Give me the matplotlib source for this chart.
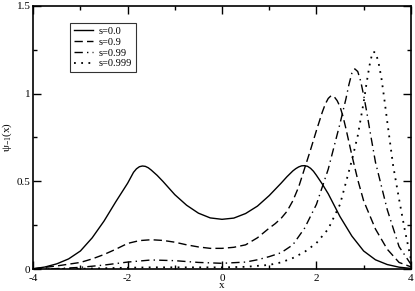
import matplotlib
matplotlib.use('Agg')
import matplotlib.pyplot as plt
from matplotlib.ticker import MultipleLocator

plt.rcParams['font.family'] = ['Liberation Serif', 'DejaVu Serif']
plt.rcParams['mathtext.fontset'] = 'custom'
plt.rcParams['mathtext.rm'] = 'Liberation Serif'
plt.rcParams['mathtext.it'] = 'Liberation Serif'

# values
x_s0 = [-4, -3.75, -3.5, -3.25, -3, -2.75, -2.5, -2.25, -2, -1.875, -1.8125, -1.75, -1.6875,
        -1.625, -1.5625, -1.5, -1.375, -1.25, -1, -0.75, -0.5, -0.25, 0, 0.25, 0.5, 0.75, 1,
        1.25, 1.375, 1.5, 1.5625, 1.625, 1.6875, 1.75, 1.8125, 1.875, 1.9375, 2, 2.125, 2.25,
        2.5, 2.75, 3, 3.25, 3.5, 3.75, 4]
y_s0 = [0.004, 0.014, 0.032, 0.06, 0.105, 0.18, 0.275, 0.385, 0.49, 0.552, 0.572, 0.584, 0.588,
        0.586, 0.578, 0.565, 0.535, 0.5, 0.425, 0.365, 0.32, 0.293, 0.285, 0.292, 0.318, 0.36,
        0.42, 0.49, 0.527, 0.56, 0.573, 0.583, 0.589, 0.59, 0.586, 0.575, 0.558, 0.535, 0.485,
        0.43, 0.3, 0.19, 0.105, 0.055, 0.028, 0.013, 0.006]

x_s9 = [-4, -3.5, -3, -2.75, -2.5, -2.25, -2, -1.75, -1.5, -1.25, -1, -0.75, -0.5, -0.25, 0,
        0.25, 0.5, 0.75, 1, 1.125, 1.25, 1.375, 1.5, 1.625, 1.75, 1.875, 2, 2.125, 2.1875, 2.25,
        2.3125, 2.375, 2.4375, 2.5, 2.5625, 2.625, 2.75, 2.875, 3, 3.25, 3.5, 3.75, 4]
y_s9 = [0.004, 0.02, 0.04, 0.06, 0.085, 0.115, 0.148, 0.164, 0.169, 0.165, 0.155, 0.14, 0.128,
        0.12, 0.12, 0.126, 0.14, 0.18, 0.235, 0.26, 0.29, 0.33, 0.39, 0.47, 0.575, 0.68, 0.79,
        0.895, 0.94, 0.972, 0.988, 0.982, 0.96, 0.925, 0.87, 0.8, 0.65, 0.51, 0.39, 0.23, 0.115,
        0.04, 0.015]

x_s99 = [-4, -3.5, -3, -2.5, -2, -1.5, -1, -0.5, 0, 0.5, 0.75, 1, 1.25, 1.5, 1.75, 2, 2.25,
         2.5, 2.625, 2.6875, 2.75, 2.8125, 2.875, 2.9375, 3, 3.0625, 3.125, 3.25, 3.5, 3.75, 4]
y_s99 = [0.001, 0.005, 0.012, 0.025, 0.042, 0.054, 0.05, 0.04, 0.035, 0.042, 0.055, 0.073,
         0.095, 0.14, 0.235, 0.37, 0.57, 0.83, 0.97, 1.05, 1.115, 1.14, 1.125, 1.07, 0.99, 0.9,
         0.8, 0.61, 0.34, 0.13, 0.03]

x_s999 = [-4, -3, -2, -1.5, -1, -0.5, 0, 0.5, 1, 1.25, 1.5, 1.75, 2, 2.25, 2.5, 2.75, 2.875,
          3, 3.0625, 3.125, 3.1875, 3.25, 3.3125, 3.375, 3.4375, 3.5, 3.625, 3.75, 3.875, 4]
y_s999 = [0.0, 0.004, 0.01, 0.012, 0.012, 0.012, 0.012, 0.015, 0.026, 0.04, 0.065, 0.1, 0.15,
          0.23, 0.37, 0.62, 0.76, 0.95, 1.06, 1.16, 1.235, 1.235, 1.18, 1.09, 0.97, 0.84, 0.59,
          0.4, 0.22, 0.06]

fig = plt.figure(figsize=(4.15, 2.91), dpi=100)
ax = fig.add_axes([0.08, 0.074, 0.91, 0.907])

ax.plot(x_s0, y_s0, color='black', lw=1.0, ls='-', label='s=0.0')
ax.plot(x_s9, y_s9, color='black', lw=1.0, ls=(0, (6, 3)), label='s=0.9')
ax.plot(x_s99, y_s99, color='black', lw=1.0, ls=(0, (6, 3, 1, 3)), label='s=0.99')
ax.plot(x_s999, y_s999, color='black', lw=1.3, ls=(0, (1, 3)), label='s=0.999')

ax.set_xlim(-4, 4)
ax.set_ylim(0, 1.5)
ax.xaxis.set_major_locator(MultipleLocator(2))
ax.xaxis.set_minor_locator(MultipleLocator(1))
ax.yaxis.set_major_locator(MultipleLocator(0.5))
ax.yaxis.set_minor_locator(MultipleLocator(0.25))
ax.xaxis.set_major_formatter(plt.FuncFormatter(lambda v, p: f'{v:g}'))
ax.yaxis.set_major_formatter(plt.FuncFormatter(lambda v, p: f'{v:g}'))
ax.tick_params(which='both', direction='in', top=True, right=True, labelsize=8)
ax.tick_params(axis='x', pad=3)
ax.tick_params(axis='y', pad=2)
ax.tick_params(which='major', length=6, width=1)
ax.tick_params(which='minor', length=3, width=1)
for sp in ax.spines.values():
    sp.set_linewidth(1.2)

ax.set_xlabel('x', fontsize=8, labelpad=-1)
ax.set_ylabel(r'$\mathrm{\psi}_{\mathrm{-1}}\mathrm{(x)}$', fontsize=8, labelpad=2)

leg = ax.legend(loc='upper left', bbox_to_anchor=(0.098, 0.934), borderaxespad=0,
                fontsize=7.5, frameon=True, fancybox=False, handlelength=1.8,
                handletextpad=0.6, labelspacing=0.15, borderpad=0.35)
leg.get_frame().set_edgecolor('black')
leg.get_frame().set_linewidth(0.8)

fig.savefig('out.png', dpi=100)
